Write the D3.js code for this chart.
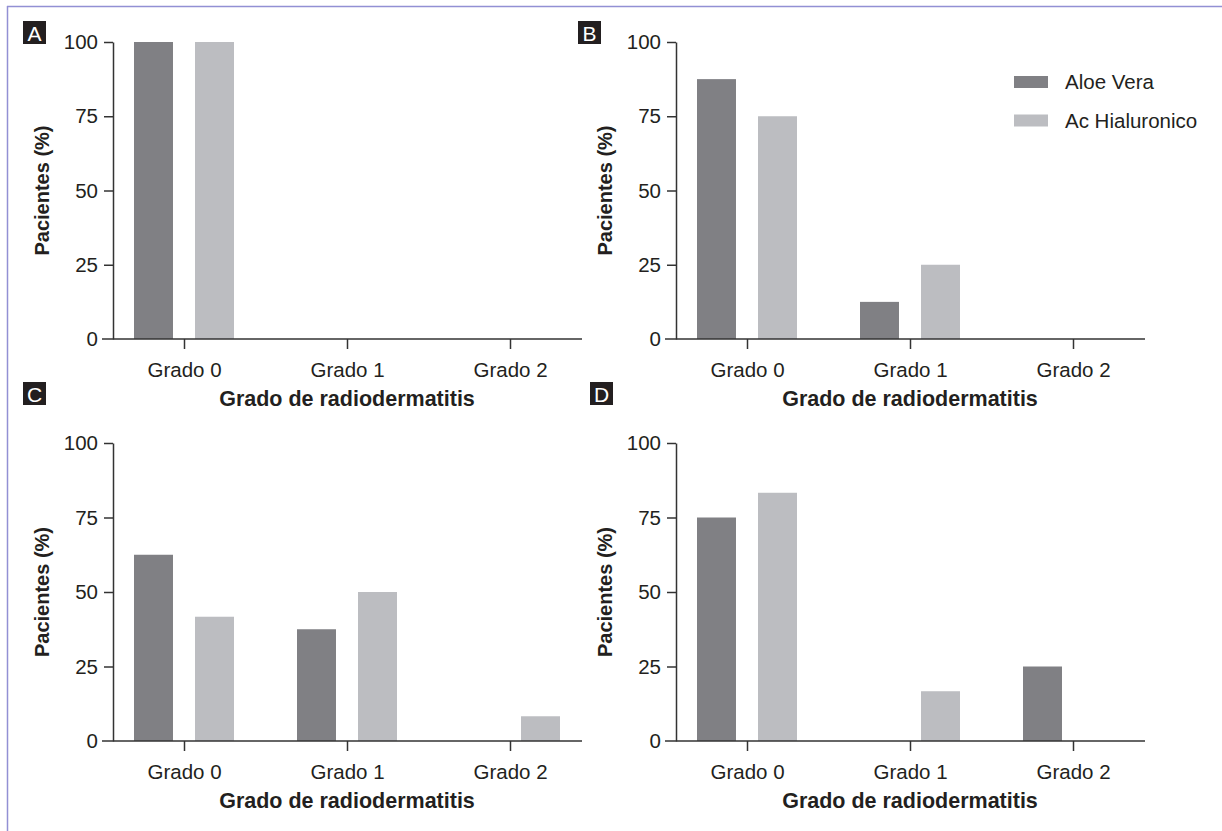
<!DOCTYPE html>
<html>
<head>
<meta charset="utf-8">
<script src="https://cdn.jsdelivr.net/npm/d3@7"></script>
<style>
body{margin:0;background:#fff;}
svg{display:block;font-family:"Liberation Sans",Arial,sans-serif;}
</style>
</head>
<body>
<svg id="chart" width="1222" height="831"></svg>
<script>
const categories = ["Grado 0", "Grado 1", "Grado 2"];
const seriesNames = ["Aloe Vera", "Ac Hialuronico"];
const yTicks = [0, 25, 50, 75, 100];
const panelLabels = ["A", "B", "C", "D"];
const aloeA = [100, 0, 0];
const hialA = [100, 0, 0];
const aloeB = [87.5, 12.5, 0];
const hialB = [75, 25, 0];
const aloeC = [62.5, 37.5, 0];
const hialC = [41.7, 50, 8.3];
const aloeD = [75, 0, 25];
const hialD = [83.3, 16.7, 0];
const xTitle = "Grado de radiodermatitis";
const yTitle = "Pacientes (%)";

const colors = {"Aloe Vera": "#808084", "Ac Hialuronico": "#bcbdc1"};
const axisColor = "#333333";
const textColor = "#231f20";

const svg = d3.select("#chart");

// frame border (top & left visible)
svg.append("line").attr("x1", 7).attr("x2", 1222).attr("y1", 6.5).attr("y2", 6.5)
  .attr("stroke", "#9290d4").attr("stroke-width", 1.5);
svg.append("line").attr("x1", 7.5).attr("x2", 7.5).attr("y1", 6).attr("y2", 831)
  .attr("stroke", "#9290d4").attr("stroke-width", 1.5);

const panels = [
  {aloe: aloeA, hial: hialA, ax: 113, top: 42, bottom: 339, lx: 23, ly: 21},
  {aloe: aloeB, hial: hialB, ax: 676, top: 42, bottom: 339, lx: 578, ly: 21},
  {aloe: aloeC, hial: hialC, ax: 113, top: 443, bottom: 741, lx: 23, ly: 382},
  {aloe: aloeD, hial: hialD, ax: 676, top: 443, bottom: 741, lx: 590, ly: 382}
];

panels.forEach((p, pi) => {
  const g = svg.append("g");
  const y = d3.scaleLinear().domain([0, 100]).range([p.bottom, p.top]);
  const x = d3.scalePoint().domain(categories).range([p.ax + 71, p.ax + 397]);
  const x1 = d3.scaleBand().domain(seriesNames).range([-50, 50]).paddingInner(0.361).paddingOuter(0);

  // bars
  const rows = categories.map((c, i) => ({cat: c, vals: [p.aloe[i], p.hial[i]]}));
  rows.forEach(r => {
    seriesNames.forEach((s, si) => {
      const v = r.vals[si];
      if (v <= 0) return;
      g.append("rect")
        .attr("x", x(r.cat) + x1(s))
        .attr("y", y(v))
        .attr("width", x1.bandwidth())
        .attr("height", y(0) - y(v))
        .attr("fill", colors[s]);
    });
  });

  // y axis
  const yAxis = d3.axisLeft(y).tickValues(yTicks.filter(t => t !== 0)).tickSize(9).tickPadding(6).tickSizeOuter(0);
  const ya = g.append("g").attr("transform", `translate(${p.ax},0)`).call(yAxis);
  ya.select(".domain").attr("stroke", axisColor).attr("stroke-width", 1.5);
  ya.selectAll(".tick line").attr("stroke", axisColor).attr("stroke-width", 1.5);
  ya.selectAll(".tick text").attr("font-size", 20.5).attr("fill", textColor)
    .attr("font-family", "Liberation Sans, Arial, sans-serif");
  g.append("text").attr("x", p.ax - 15).attr("y", y(0)).attr("dy", "0.34em")
    .attr("text-anchor", "end").attr("font-size", 20.5).attr("fill", textColor).text(String(yTicks[0]));

  // x axis
  const xAxis = d3.axisBottom(x).tickSize(10).tickPadding(13).tickSizeOuter(0);
  const xa = g.append("g").attr("transform", `translate(0,${p.bottom})`).call(xAxis);
  xa.select(".domain").remove();
  xa.selectAll(".tick line").attr("stroke", axisColor).attr("stroke-width", 1.5);
  xa.selectAll(".tick text").attr("font-size", 20.5).attr("fill", textColor)
    .attr("font-family", "Liberation Sans, Arial, sans-serif");
  g.append("line").attr("x1", p.ax - 11).attr("x2", p.ax + 469)
    .attr("y1", p.bottom).attr("y2", p.bottom)
    .attr("stroke", axisColor).attr("stroke-width", 1.5);

  // axis titles
  g.append("text").attr("x", x(categories[1])).attr("y", p.bottom + 67)
    .attr("text-anchor", "middle").attr("font-size", 21.5).attr("font-weight", "bold")
    .attr("fill", textColor).text(xTitle);
  g.append("text")
    .attr("transform", `translate(${p.ax - 64},${(p.top + p.bottom) / 2}) rotate(-90)`)
    .attr("text-anchor", "middle").attr("font-size", 20).attr("font-weight", "bold")
    .attr("fill", textColor).text(yTitle);

  // panel label
  g.append("rect").attr("x", p.lx).attr("y", p.ly).attr("width", 23).attr("height", 23).attr("fill", "#231f20");
  g.append("text").attr("x", p.lx + 11.5).attr("y", p.ly + 19.5).attr("text-anchor", "middle")
    .attr("font-size", 21).attr("fill", "#fff").text(panelLabels[pi]);
});

// legend
const leg = svg.append("g");
seriesNames.forEach((s, i) => {
  const cy = 82 + i * 38.5;
  leg.append("rect").attr("x", 1014).attr("y", cy - 6).attr("width", 34).attr("height", 12).attr("fill", colors[s]);
  leg.append("text").attr("x", 1065).attr("y", cy).attr("dy", "0.35em")
    .attr("font-size", 20.5).attr("fill", textColor).text(s);
});
</script>
</body>
</html>
